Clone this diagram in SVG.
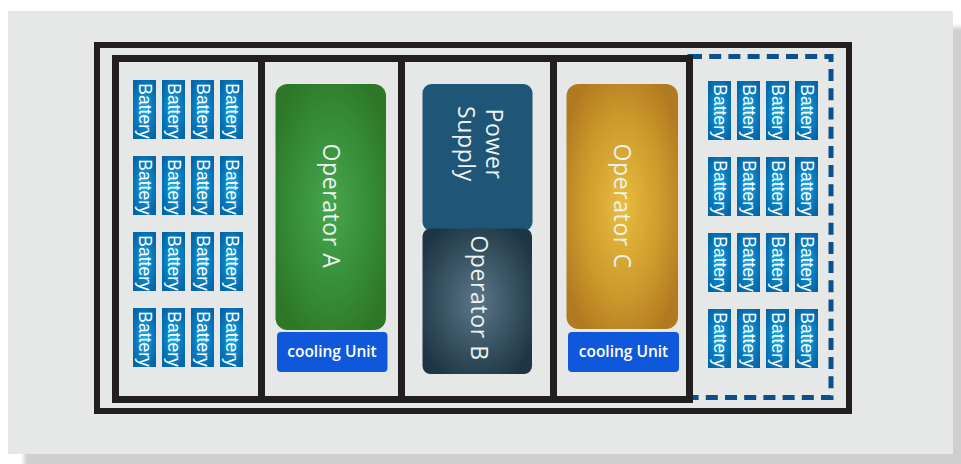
<svg xmlns="http://www.w3.org/2000/svg" width="961" height="464" viewBox="0 0 961 464">
  <defs>
    <filter id="soft" x="-5%" y="-5%" width="110%" height="110%">
      <feGaussianBlur stdDeviation="2"/>
    </filter>
    <radialGradient id="cellGrad" cx="0.5" cy="0.5" r="0.6">
      <stop offset="0" stop-color="#17aee8"/>
      <stop offset="0.55" stop-color="#0a7fc2"/>
      <stop offset="1" stop-color="#0366a8"/>
    </radialGradient>
    <radialGradient id="greenGrad" cx="0.5" cy="0.5" r="0.6">
      <stop offset="0" stop-color="#46a64d"/>
      <stop offset="0.6" stop-color="#368c38"/>
      <stop offset="1" stop-color="#2d7727"/>
    </radialGradient>
    <radialGradient id="goldGrad" cx="0.5" cy="0.5" r="0.6">
      <stop offset="0" stop-color="#e8bd3e"/>
      <stop offset="0.6" stop-color="#cc9a2c"/>
      <stop offset="1" stop-color="#b27a20"/>
    </radialGradient>
    <radialGradient id="slateGrad" cx="0.5" cy="0.5" r="0.6">
      <stop offset="0" stop-color="#5d7689"/>
      <stop offset="0.6" stop-color="#35505f"/>
      <stop offset="1" stop-color="#1f3546"/>
    </radialGradient>
    <style>
      .frame { fill: none; stroke: #231f20; }
      .cell rect { fill: url(#cellGrad); }
      .cell text { fill: #ffffff; font-family: "Liberation Sans", Arial, sans-serif; font-size: 17.5px; text-anchor: middle; }
      .op { font-family: "Open Sans", "Noto Sans", sans-serif; font-size: 23px; fill: #eef2ee; text-anchor: middle; letter-spacing: 0.6px; }
      .cool rect { fill: #0f58dc; }
      .cool text { font-family: "Open Sans", "Noto Sans", sans-serif; font-size: 15.5px; font-weight: 600; fill: #ffffff; text-anchor: middle; }
    </style>
  </defs>

  <!-- backdrop panel with drop shadow -->
  <rect x="24" y="27" width="945" height="445" fill="#cfcfcf" filter="url(#soft)"/>
  <rect x="8" y="11" width="945" height="443" fill="#e6e7e7"/>

  <!-- enclosure frames -->
  <g id="enclosure">
    <rect class="frame" x="97" y="45" width="752" height="366" stroke-width="6"/>
    <rect id="extension-bay" x="690" y="56.5" width="141" height="341" fill="none" stroke="#0b4f8d" stroke-width="5" stroke-dasharray="12 7.2"/>
    <rect class="frame" x="115.5" y="58.5" width="574" height="341" stroke-width="7"/>
    <line class="frame" x1="261.5" y1="58" x2="261.5" y2="400" stroke-width="7"/>
    <line class="frame" x1="401.5" y1="58" x2="401.5" y2="400" stroke-width="7"/>
    <line class="frame" x1="553.5" y1="58" x2="553.5" y2="400" stroke-width="7"/>
  </g>

  <!-- left battery bank -->
  <g id="battery-bank-left">
    <g class="cell"><rect x="133" y="80" width="23" height="59"/><text transform="translate(139,111) rotate(90)">Battery</text></g>
    <g class="cell"><rect x="162" y="80" width="23" height="59"/><text transform="translate(168,111) rotate(90)">Battery</text></g>
    <g class="cell"><rect x="191" y="80" width="23" height="59"/><text transform="translate(197,111) rotate(90)">Battery</text></g>
    <g class="cell"><rect x="220" y="80" width="23" height="59"/><text transform="translate(226,111) rotate(90)">Battery</text></g>
    <g class="cell"><rect x="133" y="156" width="23" height="59"/><text transform="translate(139,187) rotate(90)">Battery</text></g>
    <g class="cell"><rect x="162" y="156" width="23" height="59"/><text transform="translate(168,187) rotate(90)">Battery</text></g>
    <g class="cell"><rect x="191" y="156" width="23" height="59"/><text transform="translate(197,187) rotate(90)">Battery</text></g>
    <g class="cell"><rect x="220" y="156" width="23" height="59"/><text transform="translate(226,187) rotate(90)">Battery</text></g>
    <g class="cell"><rect x="133" y="232" width="23" height="59"/><text transform="translate(139,263) rotate(90)">Battery</text></g>
    <g class="cell"><rect x="162" y="232" width="23" height="59"/><text transform="translate(168,263) rotate(90)">Battery</text></g>
    <g class="cell"><rect x="191" y="232" width="23" height="59"/><text transform="translate(197,263) rotate(90)">Battery</text></g>
    <g class="cell"><rect x="220" y="232" width="23" height="59"/><text transform="translate(226,263) rotate(90)">Battery</text></g>
    <g class="cell"><rect x="133" y="308" width="23" height="59"/><text transform="translate(139,339) rotate(90)">Battery</text></g>
    <g class="cell"><rect x="162" y="308" width="23" height="59"/><text transform="translate(168,339) rotate(90)">Battery</text></g>
    <g class="cell"><rect x="191" y="308" width="23" height="59"/><text transform="translate(197,339) rotate(90)">Battery</text></g>
    <g class="cell"><rect x="220" y="308" width="23" height="59"/><text transform="translate(226,339) rotate(90)">Battery</text></g>
  </g>

  <!-- right battery bank -->
  <g id="battery-bank-right">
    <g class="cell"><rect x="708" y="81" width="23" height="59"/><text transform="translate(714,112) rotate(90)">Battery</text></g>
    <g class="cell"><rect x="737" y="81" width="23" height="59"/><text transform="translate(743,112) rotate(90)">Battery</text></g>
    <g class="cell"><rect x="766" y="81" width="23" height="59"/><text transform="translate(772,112) rotate(90)">Battery</text></g>
    <g class="cell"><rect x="795" y="81" width="23" height="59"/><text transform="translate(801,112) rotate(90)">Battery</text></g>
    <g class="cell"><rect x="708" y="157" width="23" height="59"/><text transform="translate(714,188) rotate(90)">Battery</text></g>
    <g class="cell"><rect x="737" y="157" width="23" height="59"/><text transform="translate(743,188) rotate(90)">Battery</text></g>
    <g class="cell"><rect x="766" y="157" width="23" height="59"/><text transform="translate(772,188) rotate(90)">Battery</text></g>
    <g class="cell"><rect x="795" y="157" width="23" height="59"/><text transform="translate(801,188) rotate(90)">Battery</text></g>
    <g class="cell"><rect x="708" y="233" width="23" height="59"/><text transform="translate(714,264) rotate(90)">Battery</text></g>
    <g class="cell"><rect x="737" y="233" width="23" height="59"/><text transform="translate(743,264) rotate(90)">Battery</text></g>
    <g class="cell"><rect x="766" y="233" width="23" height="59"/><text transform="translate(772,264) rotate(90)">Battery</text></g>
    <g class="cell"><rect x="795" y="233" width="23" height="59"/><text transform="translate(801,264) rotate(90)">Battery</text></g>
    <g class="cell"><rect x="708" y="309" width="23" height="59"/><text transform="translate(714,340) rotate(90)">Battery</text></g>
    <g class="cell"><rect x="737" y="309" width="23" height="59"/><text transform="translate(743,340) rotate(90)">Battery</text></g>
    <g class="cell"><rect x="766" y="309" width="23" height="59"/><text transform="translate(772,340) rotate(90)">Battery</text></g>
    <g class="cell"><rect x="795" y="309" width="23" height="59"/><text transform="translate(801,340) rotate(90)">Battery</text></g>
  </g>

  <!-- operator A with its cooling unit -->
  <g id="operator-a">
    <rect x="275.5" y="84" width="110.5" height="246" rx="12" fill="url(#greenGrad)"/>
    <text class="op" transform="translate(323,206) rotate(90)">Operator A</text>
  </g>
  <g id="cooling-a" class="cool">
    <rect x="277" y="332" width="110.5" height="40" rx="4"/>
    <text x="332" y="357">cooling Unit</text>
  </g>

  <!-- power supply -->
  <g id="power-supply">
    <rect x="422.5" y="84" width="110" height="147" rx="9" fill="#1f5576"/>
    <text class="op" transform="translate(486,144) rotate(90)"><tspan x="0" y="0">Power</tspan><tspan x="0" y="28">Supply</tspan></text>
  </g>

  <!-- operator B -->
  <g id="operator-b">
    <rect x="422.5" y="228.5" width="109.5" height="145.5" rx="8" fill="url(#slateGrad)"/>
    <text class="op" transform="translate(471,298) rotate(90)">Operator B</text>
  </g>

  <!-- operator C with its cooling unit -->
  <g id="operator-c">
    <rect x="566.5" y="84" width="111.5" height="245" rx="12" fill="url(#goldGrad)"/>
    <text class="op" transform="translate(614,206) rotate(90)">Operator C</text>
  </g>
  <g id="cooling-c" class="cool">
    <rect x="568" y="332" width="111" height="40" rx="4"/>
    <text x="623.5" y="357">cooling Unit</text>
  </g>
</svg>
